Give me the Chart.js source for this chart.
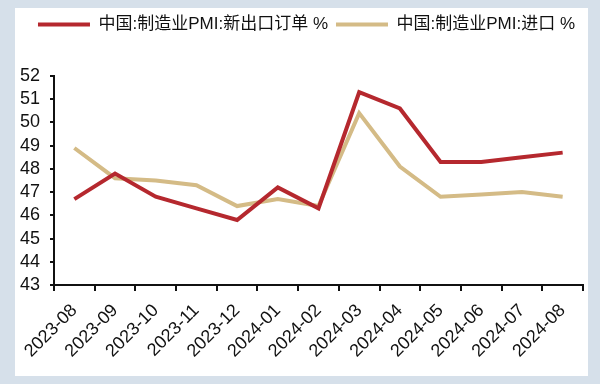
<!DOCTYPE html>
<html>
<head>
<meta charset="utf-8">
<script src="https://cdn.jsdelivr.net/npm/chart.js@4/dist/chart.umd.min.js"></script>
<style>
  html, body { margin: 0; padding: 0; }
  body { width: 600px; height: 384px; background: #d6e0ea; position: relative; overflow: hidden; }
  #wrap { position: absolute; left: 15px; top: 8px; width: 573px; height: 368px; background: #fff; }
</style>
</head>
<body>
<div id="wrap"><canvas id="pmi_line" width="573" height="368"></canvas></div>
<script>
// months on the x axis
months = ['2023-08', '2023-09', '2023-10', '2023-11', '2023-12', '2024-01', '2024-02',
          '2024-03', '2024-04', '2024-05', '2024-06', '2024-07', '2024-08']

// values
newExportOrders = [46.7, 47.8, 46.8, 46.3, 45.8, 47.2, 46.3, 51.3, 50.6, 48.3, 48.3, 48.5, 48.7]
imports = [48.9, 47.6, 47.5, 47.3, 46.4, 46.7, 46.4, 50.4, 48.1, 46.8, 46.9, 47.0, 46.8]

yMin = 43
yMax = 52

fontFamily = "'Liberation Sans', 'Noto Sans CJK SC', Arial, sans-serif"

// push the plot down below the legend
legendGap = {
  id: 'legendGap',
  beforeUpdate(chart) {
    const lg = chart.legend;
    if (lg && !lg._gapDone) {
      const fit = lg.fit;
      lg.fit = function () { fit.call(this); this.height += 33; };
      lg._gapDone = true;
    }
  }
};

chartdata = {
  labels: months,
  datasets: [{
    label: '中国:制造业PMI:新出口订单 %',
    data: newExportOrders,
    borderColor: '#b5282e',
    backgroundColor: '#b5282e',
    borderWidth: 4,
    pointRadius: 0,
    tension: 0
  }, {
    label: '中国:制造业PMI:进口 %',
    data: imports,
    borderColor: '#d4bb86',
    backgroundColor: '#d4bb86',
    borderWidth: 4,
    pointRadius: 0,
    tension: 0
  }]
};

config = {
  type: 'line',
  data: chartdata,
  plugins: [legendGap],
  options: {
    responsive: false,
    animation: false,
    layout: { padding: { top: 0, left: 0, right: 5, bottom: 0 } },
    plugins: {
      tooltip: { enabled: false },
      legend: {
        position: 'top',
        align: 'end',
        labels: {
          color: '#111',
          font: { family: fontFamily, size: 17 },
          boxWidth: 52,
          boxHeight: 4,
          padding: 8,
          generateLabels: ch => Chart.defaults.plugins.legend.labels.generateLabels(ch)
            .map(l => Object.assign(l, { lineWidth: 0 }))
        }
      }
    },
    scales: {
      x: {
        offset: true,
        grid: { offset: true, drawOnChartArea: false, drawTicks: true, tickLength: 6, color: '#111', lineWidth: 2 },
        border: { display: true, color: '#111', width: 2 },
        ticks: {
          color: '#111',
          font: { family: fontFamily, size: 18 },
          minRotation: 45,
          maxRotation: 45,
          autoSkip: false,
          padding: 9
        },
        afterFit: s => { s.height = 91; }
      },
      y: {
        min: yMin,
        max: yMax,
        grid: { drawOnChartArea: false, drawTicks: true, tickLength: 4, color: '#111', lineWidth: 2 },
        border: { display: true, color: '#111', width: 2 },
        ticks: {
          stepSize: 1,
          autoSkip: false,
          color: '#111',
          font: { family: fontFamily, size: 18 },
          padding: 10
        },
        afterFit: s => { s.width = 39; }
      }
    }
  }
};

var myChart = new Chart(document.getElementById('pmi_line'), config);
</script>
</body>
</html>
